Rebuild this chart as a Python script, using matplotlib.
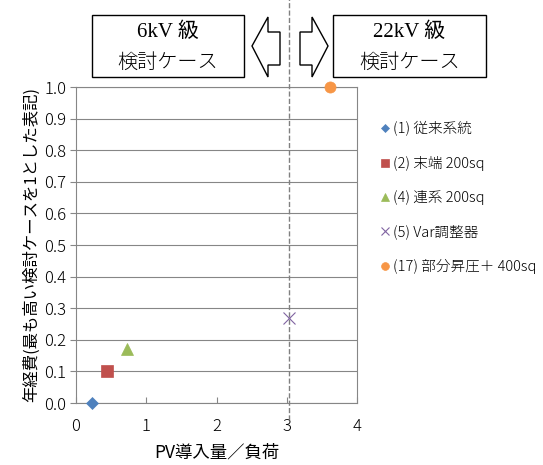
import matplotlib

matplotlib.use("Agg")
import matplotlib.pyplot as plt
from matplotlib.patches import Polygon, Rectangle

plt.rcParams["font.family"] = ["Noto Sans CJK JP", "DejaVu Sans"]
plt.rcParams["font.weight"] = "light"

# data
labels = ["(1) 従来系統", "(2) 末端 200sq", "(4) 連系 200sq", "(5) Var調整器", "(17) 部分昇圧＋ 400sq"]
pv_ratio = [0.23, 0.44, 0.73, 3.03, 3.62]
annual_cost = [0.0, 0.10, 0.17, 0.27, 1.0]
markers = ["D", "s", "^", "x", "o"]
colors = ["#4F81BD", "#C0504D", "#9BBB59", "#8064A2", "#F79646"]
sizes = [6, 9, 9, 9, 8]
boundary = 3.03

W, H = 543, 465
fig = plt.figure(figsize=(W / 100, H / 100), dpi=100)
ax = fig.add_axes([76 / W, 1 - 403 / H, (357 - 76) / W, (403 - 87) / H])

for x, y, lab, m, c, s in zip(pv_ratio, annual_cost, labels, markers, colors, sizes):
    ax.plot([x], [y], linestyle="none", marker=m, color=c, markersize=s,
            markeredgewidth=0.8 if m == "x" else 0.5, label=lab, clip_on=False, zorder=5)

ax.axvline(boundary, ymin=-0.055, ymax=1.28, color="#808080", linestyle="--",
           linewidth=1, clip_on=False, zorder=3)

ax.set_xlim(0, 4)
ax.set_ylim(0, 1.0)
ax.set_xticks([0, 1, 2, 3, 4])
ax.set_yticks([i / 10 for i in range(11)])
ax.set_yticklabels([f"{i / 10:.1f}" for i in range(11)])
ax.grid(axis="y", color="#868686", linewidth=0.8)
ax.set_axisbelow(True)
for sp in ax.spines.values():
    sp.set_color("#868686")
ax.tick_params(axis="x", direction="in", length=4, color="#868686", labelsize=12, pad=11)
ax.tick_params(axis="y", direction="out", length=4, color="#868686", labelsize=12, pad=3)
ax.set_xlabel("PV導入量／負荷", fontsize=12.5, labelpad=6)
ax.set_ylabel("年経費(最も高い検討ケースを1とした表記)", fontsize=11.8, labelpad=3)

ax.legend(loc="upper left", bbox_to_anchor=(373 / W, 1 - 114 / H),
          bbox_transform=fig.transFigure, frameon=False, fontsize=10.5,
          handlelength=0.6, handletextpad=0.3, labelspacing=1.33, borderpad=0,
          markerscale=0.7)


def px(points):
    return [(x / W, 1 - y / H) for x, y in points]


# header boxes and arrows
for x0, x1, top in [(92, 244, "6kV 級"), (333, 486, "22kV 級")]:
    fig.patches.append(Rectangle((x0 / W, 1 - 77 / H), (x1 - x0) / W, 62 / H,
                                 transform=fig.transFigure, fill=False,
                                 edgecolor="black", linewidth=1))
    cx = (x0 + x1) / 2 / W
    fig.text(cx, 1 - 32 / H, top, ha="center", va="center", fontsize=15,
             family=["Liberation Serif", "Noto Sans CJK JP"], fontweight="normal")
    fig.text(cx, 1 - 62 / H, "検討ケース", ha="center", va="center", fontsize=14.5)

left_arrow = [(252, 46), (268, 17), (268, 32), (280, 32), (280, 65), (268, 65), (268, 77)]
right_arrow = [(328, 46), (312, 17), (312, 32), (300, 32), (300, 65), (312, 65), (312, 77)]
for pts in (left_arrow, right_arrow):
    fig.patches.append(Polygon(px(pts), closed=True, transform=fig.transFigure,
                               facecolor="white", edgecolor="black", linewidth=1))

fig.savefig("out.png", dpi=100)
